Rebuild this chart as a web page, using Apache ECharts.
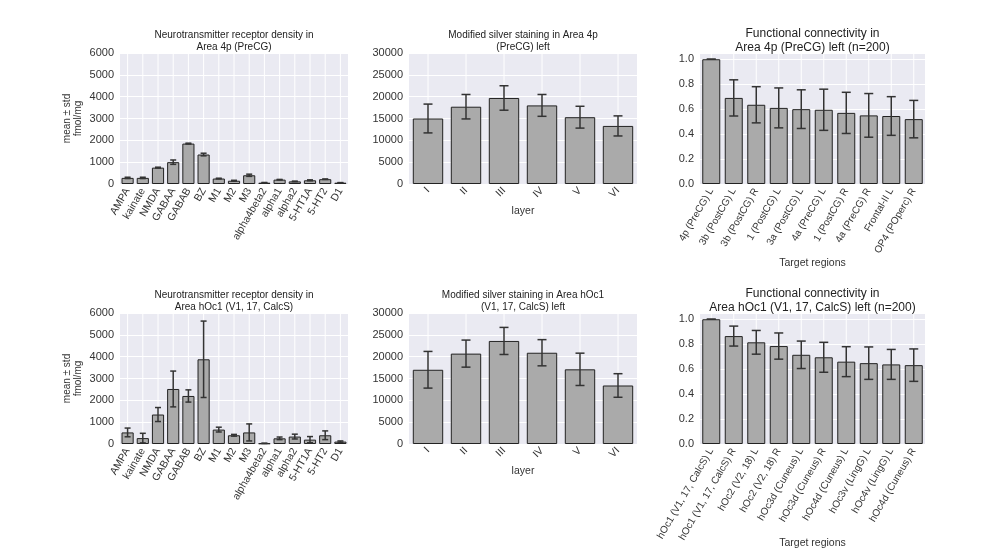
<!DOCTYPE html>
<html><head><meta charset="utf-8">
<script src="https://cdn.jsdelivr.net/npm/echarts@6/dist/echarts.min.js"></script>
<style>html,body{margin:0;padding:0;background:#fff}#c{width:996px;height:560px}</style>
</head><body><div id="c"></div>
<script>
const receptors = ['AMPA','kainate','NMDA','GABAA','GABAB','BZ','M1','M2','M3','alpha4beta2','alpha1','alpha2','5-HT1A','5-HT2','D1'];
const rec4pMean = [280,280,750,1000,1850,1350,250,150,400,60,200,120,170,220,60];
const rec4pStd  = [30,30,20,100,20,60,15,20,50,10,10,10,20,10,5];
const recHocMean = [530,270,1350,2520,2200,3880,660,400,530,30,260,340,200,400,110];
const recHocStd  = [200,220,320,820,280,1750,110,40,390,5,60,110,140,200,30];
const layers = ['I','II','III','IV','V','VI'];
const silv4pMean = [15000,17700,19700,18000,15300,13300];
const silv4pStd  = [3300,2800,2800,2500,2500,2300];
const silvHocMean = [17000,20700,23600,20900,17100,13400];
const silvHocStd  = [4200,3100,3100,3000,3700,2700];
const fc4pRegions = ['4p (PreCG) L','3b (PostCG) L','3b (PostCG) R','1 (PostCG) L','3a (PostCG) L','4a (PreCG) L','1 (PostCG) R','4a (PreCG) R','Frontal-II L','OP4 (POperc) R'];
const fc4pMean = [1.0,0.69,0.635,0.61,0.60,0.595,0.57,0.55,0.545,0.52];
const fc4pStd  = [0,0.145,0.145,0.16,0.155,0.165,0.165,0.175,0.155,0.15];
const fcHocRegions = ['hOc1 (V1, 17, CalcS) L','hOc1 (V1, 17, CalcS) R','hOc2 (V2, 18) L','hOc2 (V2, 18) R','hOc3d (Cuneus) L','hOc3d (Cuneus) R','hOc4d (Cuneus) L','hOc3v (LingG) L','hOc4v (LingG) L','hOc4d (Cuneus) R'];
const fcHocMean = [1.0,0.865,0.815,0.785,0.715,0.695,0.66,0.648,0.638,0.632];
const fcHocStd  = [0,0.08,0.095,0.105,0.11,0.12,0.12,0.13,0.12,0.13];

const panels = [
 {cats:receptors,m:rec4pMean,s:rec4pStd,left:120,top:53,w:228,max:6000,int:1000,title:'Neurotransmitter receptor density in\nArea 4p (PreCG)',ts:10,yname:'mean ± std\nfmol/mg',rot:60,xname:'',xs:10.5},
 {cats:layers,m:silv4pMean,s:silv4pStd,left:409,top:53,w:228,max:30000,int:5000,title:'Modified silver staining in Area 4p\n(PreCG) left',ts:10,yname:'',rot:45,xname:'layer',gap:22,xs:10.5},
 {cats:fc4pRegions,m:fc4pMean,s:fc4pStd,left:700,top:53,w:225,max:1.05,int:0.2,title:'Functional connectivity in\nArea 4p (PreCG) left (n=200)',ts:12,yname:'',rot:60,xname:'Target regions',gap:74,fmt:1,xs:10},
 {cats:receptors,m:recHocMean,s:recHocStd,left:120,top:313,w:228,max:6000,int:1000,title:'Neurotransmitter receptor density in\nArea hOc1 (V1, 17, CalcS)',ts:10,yname:'mean ± std\nfmol/mg',rot:60,xname:'',xs:10.5},
 {cats:layers,m:silvHocMean,s:silvHocStd,left:409,top:313,w:228,max:30000,int:5000,title:'Modified silver staining in Area hOc1\n(V1, 17, CalcS) left',ts:10,yname:'',rot:45,xname:'layer',gap:22,xs:10.5},
 {cats:fcHocRegions,m:fcHocMean,s:fcHocStd,left:700,top:313,w:225,max:1.05,int:0.2,title:'Functional connectivity in\nArea hOc1 (V1, 17, CalcS) left (n=200)',ts:12,yname:'',rot:60,xname:'Target regions',gap:94,fmt:1,xs:10}
];
const H = 131;
const font = 'Liberation Sans, Arial, sans-serif';
const option = {animation:false,backgroundColor:'#fff',textStyle:{fontFamily:font},grid:[],xAxis:[],yAxis:[],series:[],title:[]};
panels.forEach((p,i)=>{
  option.grid.push({left:p.left,top:p.top,width:p.w,height:H,show:true,backgroundColor:'#eaeaf2',borderWidth:0});
  option.title.push({text:p.title,left:p.left+p.w/2,top:p.top-(p.ts===12?26:24),textAlign:'center',padding:0,
    textStyle:{fontSize:p.ts,fontWeight:'normal',color:'#222',lineHeight:p.ts+2,fontFamily:font}});
  option.xAxis.push({type:'category',gridIndex:i,data:p.cats,axisLine:{show:false},axisTick:{show:false},
    axisLabel:{rotate:p.rot,interval:0,fontSize:p.xs,color:'#333',margin:5},
    name:p.xname,nameLocation:'middle',nameGap:p.gap||0,nameMoveOverlap:false,nameTextStyle:{fontSize:10.5,color:'#333'}});
  option.yAxis.push({type:'value',gridIndex:i,min:0,max:p.max,interval:p.int,axisLine:{show:false},axisTick:{show:false},
    splitLine:{lineStyle:{color:'#fff',width:1}},
    axisLabel:{fontSize:11,color:'#333',margin:6,showMaxLabel:p.fmt?false:true,formatter:p.fmt?(v=>v.toFixed(1)):(v=>String(v))},
    name:p.yname,nameLocation:'middle',nameGap:36,nameMoveOverlap:false,nameTextStyle:{fontSize:10,color:'#333',lineHeight:11}});
  const ymax = p.max;
  option.series.push({type:'custom',xAxisIndex:i,yAxisIndex:i,z:1,silent:true,data:p.cats.map((c,k)=>[k]),
    renderItem:(params,api)=>{const a=api.coord([api.value(0),0]);const b=api.coord([api.value(0),ymax]);
      return {type:'line',shape:{x1:a[0],y1:a[1],x2:b[0],y2:b[1]},style:{stroke:'#fff',lineWidth:1}};}});
  option.series.push({type:'bar',xAxisIndex:i,yAxisIndex:i,z:2,data:p.m,barCategoryGap:'20%',
    itemStyle:{color:'#aaaaaa',borderColor:'#222',borderWidth:1}});
  option.series.push({type:'custom',xAxisIndex:i,yAxisIndex:i,z:3,silent:true,
    data:p.m.map((v,k)=>[k,v-p.s[k],v+p.s[k]]),
    renderItem:(params,api)=>{const lo=api.coord([api.value(0),api.value(1)]);const hi=api.coord([api.value(0),api.value(2)]);
      const c=p.cats.length>12?3:4.5;const st={stroke:'#333',lineWidth:1.5};
      return {type:'group',children:[
        {type:'line',shape:{x1:lo[0],y1:lo[1],x2:hi[0],y2:hi[1]},style:st},
        {type:'line',shape:{x1:lo[0]-c,y1:lo[1],x2:lo[0]+c,y2:lo[1]},style:st},
        {type:'line',shape:{x1:hi[0]-c,y1:hi[1],x2:hi[0]+c,y2:hi[1]},style:st}]};}});
});
const chart = echarts.init(document.getElementById('c'));
chart.setOption(option);
</script></body></html>
